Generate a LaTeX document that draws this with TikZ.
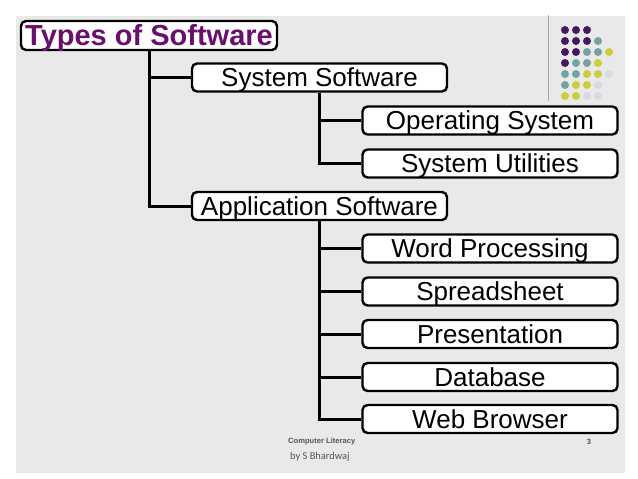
\documentclass[tikz,border=0pt]{standalone}
\usepackage{fontspec}
\setmainfont{Liberation Sans}
\newfontfamily\calib{Carlito}
\definecolor{bggray}{HTML}{E9E9E9}
\definecolor{titlepurple}{HTML}{6A0F6E}
\definecolor{dotP}{HTML}{45195F}
\definecolor{dotT}{HTML}{74A3A3}
\definecolor{dotY}{HTML}{CDCD3C}
\definecolor{dotL}{HTML}{D9D9E6}
\definecolor{footgray}{HTML}{555555}
\tikzset{
  itembox/.style={draw=black, line width=2.4pt, fill=white, rounded corners=5pt,
    minimum width=255pt, minimum height=28pt, inner sep=0pt,
    text height=18.6pt, text depth=0pt,
    font=\fontsize{26}{28}\selectfont},
  titlebox/.style={draw=black, line width=2.4pt, fill=white, rounded corners=5pt,
    minimum width=256pt, minimum height=29pt, inner sep=0pt,
    text height=20.8pt, text depth=0pt, text=titlepurple,
    font=\fontsize{29}{31}\selectfont\bfseries},
  conn/.style={line width=3pt, black},
  dot/.style={circle, inner sep=0pt, minimum size=8pt},
}
\begin{document}
\begin{tikzpicture}[x=1pt,y=-1pt]
\useasboundingbox (0,0) rectangle (638,479);
\fill[white] (0,0) rectangle (638,479);
\fill[bggray] (16,16) rectangle (625,473);
% decoration
\draw[gray!70, line width=0.8pt] (548,15) -- (548,101);
\foreach \r/\row in {0/{P,P,P},1/{P,P,P,T},2/{P,P,T,T,Y},3/{P,T,T,Y},4/{T,T,Y,Y,L},5/{T,Y,Y,L},6/{Y,Y,L,L}}{
  \foreach \c [count=\i from 0] in \row {
    \fill[dot\c] (565+11*\i, 30+11*\r) circle (4pt);
  }
}
% connectors first (under boxes)
\node[titlebox] (title) at (149,35.5) {Types of Software};
\node[itembox] (sys) at (319.5,77.5) {System Software};
\node[itembox] (app) at (319.5,206) {Application Software};
\node[itembox] (os) at (490,120.5) {Operating System};
\node[itembox] (su) at (490,163.5) {System Utilities};
\node[itembox] (wp) at (490,248.5) {Word Processing};
\node[itembox] (ss) at (490,291.5) {Spreadsheet};
\node[itembox] (pr) at (490,334) {Presentation};
\node[itembox] (db) at (490,377) {Database};
\node[itembox] (wb) at (490,419) {Web Browser};
\begin{scope}[on background layer/.try]
\end{scope}
\draw[conn] (title.south) |- (sys.west);
\draw[conn] (title.south) |- (app.west);
\draw[conn] (sys.south) |- (os.west);
\draw[conn] (sys.south) |- (su.west);
\foreach \n in {wp,ss,pr,db,wb}{
  \draw[conn] (app.south) |- (\n.west);
}
% footer
\node[anchor=west, inner sep=0pt, text=footgray, font=\fontsize{7.6}{8}\selectfont\bfseries] (foot1) at (288,442) {Computer Literacy};
\node[inner sep=0pt, text=footgray, font=\fontsize{7.6}{8}\selectfont\bfseries] (pg) at (589,442) {3};
\node[anchor=west, inner sep=0pt, text=footgray, font=\calib\fontsize{10.4}{11}\selectfont] (foot2) at (290,457) {by S Bhardwaj};
\end{tikzpicture}
\end{document}
